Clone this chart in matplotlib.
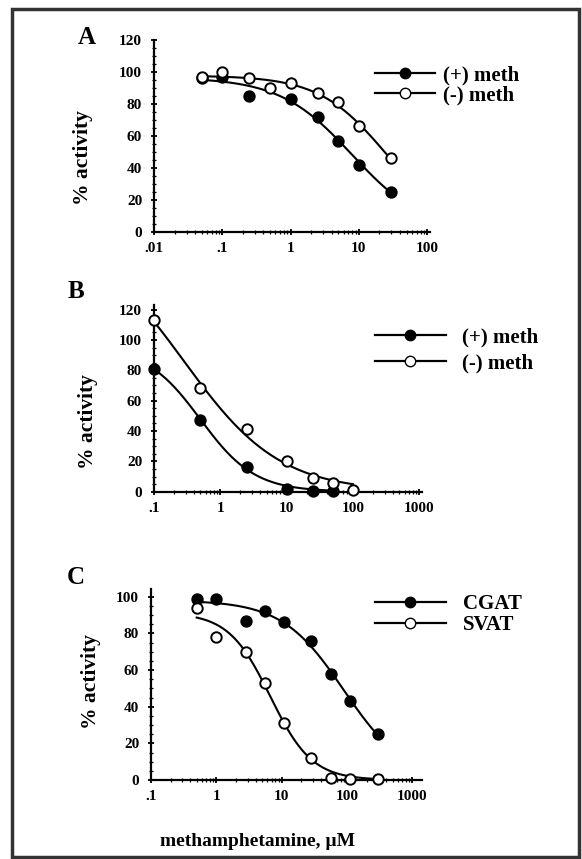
import numpy as np
import matplotlib.pyplot as plt
from matplotlib.ticker import FixedLocator, LogLocator, MultipleLocator, NullFormatter
from matplotlib.lines import Line2D
from matplotlib.patches import Rectangle

# -------------------------
# Data
# -------------------------
a_x = [0.05, 0.1, 0.25, 0.5, 1, 2.5, 5, 10, 30]
a_plus_x = [0.05, 0.1, 0.25, 1, 2.5, 5, 10, 30]
a_plus = [96, 97, 85, 83, 72, 57, 42, 25]
a_minus = [97, 100, 96, 90, 93, 87, 81, 66, 46]

b_plus_x = [0.1, 0.5, 2.5, 10, 25, 50]
b_plus = [81, 47, 16, 2, 0.5, 0.5]
b_minus_x = [0.1, 0.5, 2.5, 10, 25, 50, 100]
b_minus = [113, 68, 41, 20, 9, 5.5, 1]

c_x = [0.5, 1, 2.8, 5.6, 11, 28, 56, 112, 300]
c_cgat = [99, 99, 87, 92, 86, 76, 58, 43, 25]
c_svat = [94, 78, 70, 53, 31, 12, 1, 0.7, 0.7]

serif = ['Liberation Serif', 'DejaVu Serif']
plt.rcParams['font.family'] = serif


def hill_fit(x, y):
    # least-squares fit of top/(1+(x/c)^n) by grid search
    x = np.asarray(x, float)
    y = np.asarray(y, float)
    best = None
    for lc in np.linspace(-3, 4, 281):
        for n in np.linspace(0.3, 3.5, 161):
            f = 1.0 / (1.0 + (x / 10**lc) ** n)
            top = f @ y / (f @ f)
            err = np.sum((top * f - y) ** 2)
            if best is None or err < best[0]:
                best = (err, top, lc, n)
    _, top, lc, n = best
    return lambda xx: top / (1.0 + (xx / 10**lc) ** n)


def draw_series(ax, x, y, filled):
    fit = hill_fit(x, y)
    xx = np.logspace(np.log10(min(x)), np.log10(max(x)), 300)
    ax.plot(xx, fit(xx), color='black', lw=1.5, zorder=2)
    ax.plot(x, y, 'o', ms=7.5, mec='black', mew=1.4,
            mfc='black' if filled else 'white', zorder=3, clip_on=False)


def style_axes(ax, xlim, xticks, xlabels, ylim, yticks):
    ax.set_xscale('log')
    ax.set_xlim(*xlim)
    ax.set_ylim(*ylim)
    for s in ['top', 'right']:
        ax.spines[s].set_visible(False)
    for s in ['left', 'bottom']:
        ax.spines[s].set_linewidth(1.6)
    ax.xaxis.set_major_locator(FixedLocator(xticks))
    ax.set_xticklabels(xlabels)
    ax.xaxis.set_minor_locator(LogLocator(base=10, subs=np.arange(2, 10)))
    ax.xaxis.set_minor_formatter(NullFormatter())
    ax.set_yticks(yticks)
    ax.yaxis.set_minor_locator(MultipleLocator(5))
    ax.tick_params(which='major', direction='inout', length=5, width=1.3,
                   labelsize=11)
    ax.tick_params(axis='y', which='major', pad=6)
    ax.tick_params(axis='x', which='major', pad=5)
    ax.tick_params(which='minor', direction='inout', length=3, width=0.9)
    for lab in ax.get_xticklabels() + ax.get_yticklabels():
        lab.set_fontweight('bold')


def legend_handles():
    h1 = Line2D([], [], color='black', lw=1.6, marker='o', ms=7.5,
                mfc='black', mec='black')
    h2 = Line2D([], [], color='black', lw=1.6, marker='o', ms=7.5,
                mfc='white', mec='black')
    return [h1, h2]


W, H = 582, 859
fig = plt.figure(figsize=(W / 100, H / 100), dpi=100)


def box(l, r, b, t):
    return [l / W, 1 - b / H, (r - l) / W, (b - t) / H]


def add_legend(ax, labels, x, y, hlen, tpad, spacing):
    ax.legend(legend_handles(), labels, loc='upper left',
              bbox_to_anchor=(x / W, 1 - y / H), bbox_transform=fig.transFigure,
              frameon=False, borderpad=0, borderaxespad=0,
              handlelength=hlen, handletextpad=tpad, labelspacing=spacing,
              prop={'family': serif, 'size': 15, 'weight': 'bold'})


def ylabel_at(x, y):
    fig.text(x / W, 1 - y / H, '% activity', rotation=90, ha='center',
             va='center', fontsize=15.5, fontweight='bold')


# -------------------------
# Panel A
# -------------------------
axA = fig.add_axes(box(154, 430, 232, 40))
draw_series(axA, a_plus_x, a_plus, True)
draw_series(axA, a_x, a_minus, False)
style_axes(axA, (0.01, 110), [0.01, 0.1, 1, 10, 100],
           ['.01', '.1', '1', '10', '100'], (0, 120), range(0, 121, 20))
add_legend(axA, ['(+) meth', '(-) meth'], 375, 65, 2.9, 0.35, 0.0)
ylabel_at(83, 158)

# -------------------------
# Panel B
# -------------------------
axB = fig.add_axes(box(154, 422, 491.7, 305))
draw_series(axB, b_plus_x, b_plus, True)
draw_series(axB, b_minus_x, b_minus, False)
style_axes(axB, (0.1, 1100), [0.1, 1, 10, 100, 1000],
           ['.1', '1', '10', '100', '1000'], (0, 123), range(0, 121, 20))
add_legend(axB, ['(+) meth', '(-) meth'], 375, 327, 3.4, 0.8, 0.3)
ylabel_at(88, 422)

# -------------------------
# Panel C
# -------------------------
axC = fig.add_axes(box(151, 422, 780, 589.4))
draw_series(axC, c_x, c_cgat, True)
draw_series(axC, c_x, c_svat, False)
style_axes(axC, (0.1, 1400), [0.1, 1, 10, 100, 1000],
           ['.1', '1', '10', '100', '1000'], (0, 104), range(0, 101, 20))
add_legend(axC, ['CGAT', 'SVAT'], 375, 594, 3.4, 0.8, 0.05)
ylabel_at(91, 682)

fig.text(258 / W, 1 - 842 / H, 'methamphetamine, µM', ha='center',
         va='center', fontsize=14, fontweight='bold')

# panel letters
fig.text(78 / W, 1 - 37 / H, 'A', fontsize=18, fontweight='bold', va='center')
fig.text(68 / W, 1 - 292 / H, 'B', fontsize=18, fontweight='bold', va='center')
fig.text(67 / W, 1 - 578 / H, 'C', fontsize=18, fontweight='bold', va='center')

# scanned page frame
fig.patches.append(Rectangle((12 / W, 1 - 857 / H), 567 / W, 848 / H,
                             transform=fig.transFigure, fill=False,
                             edgecolor='#333333', lw=2.5))

fig.savefig('out.png', dpi=100)
